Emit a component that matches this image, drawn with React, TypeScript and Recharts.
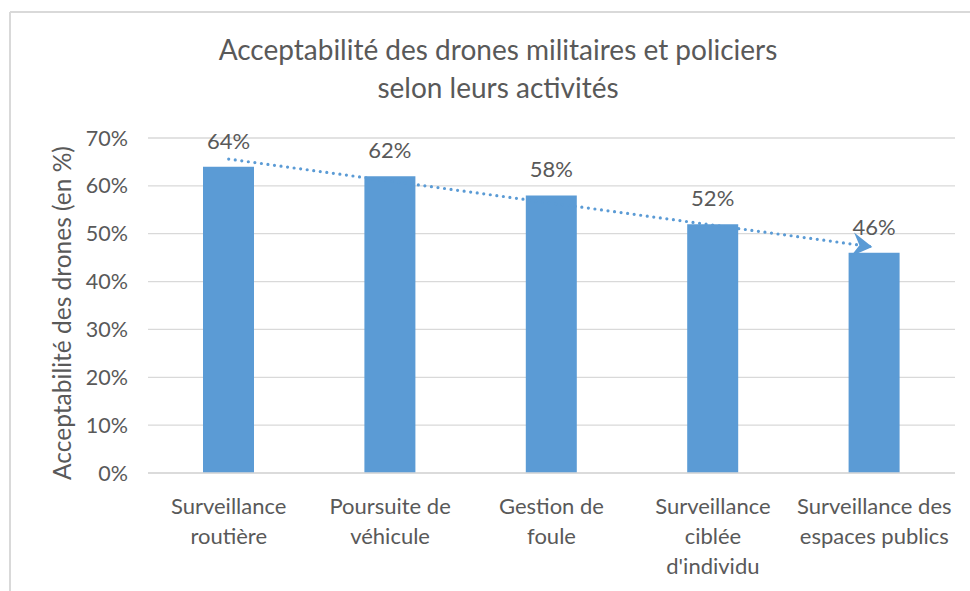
import React from "react";
import { ComposedChart, Bar, Line, XAxis, YAxis, CartesianGrid, LabelList } from "recharts";

const categories = [
  "Surveillance routière",
  "Poursuite de véhicule",
  "Gestion de foule",
  "Surveillance ciblée d'individu",
  "Surveillance des espaces publics",
];
const tickLines = [
  ["Surveillance", "routière"],
  ["Poursuite de", "véhicule"],
  ["Gestion de", "foule"],
  ["Surveillance", "ciblée", "d'individu"],
  ["Surveillance des", "espaces publics"],
];
const values = [64, 62, 58, 52, 46];
const trendValues: (number | null)[] = [65.6, null, null, null, 47.2];
const yTicks = [0, 10, 20, 30, 40, 50, 60, 70];

const data = categories.map((c, i) => ({ name: c, value: values[i], trend: trendValues[i], idx: i }));

const FONT = "Lato, 'Open Sans', sans-serif";
const TXT = "#595959";
const BLUE = "#5b9bd5";

const CatTick = (props: any) => {
  const { x, y, payload } = props;
  const lines = tickLines[payload.index] || [String(payload.value)];
  return (
    <text x={x} y={y} textAnchor="middle" fill={TXT} fontFamily={FONT} fontSize={22}>
      {lines.map((l, i) => (
        <tspan key={i} x={x} y={y + 33 + i * 30}>
          {l}
        </tspan>
      ))}
    </text>
  );
};

const ValueLabel = (props: any) => {
  const { x, y, width, value } = props;
  return (
    <text x={x + width / 2} y={y - 18} textAnchor="middle" fill={TXT} fontFamily={FONT} fontSize={22}>
      {value}%
    </text>
  );
};

const ArrowDot = (props: any) => {
  const { cx, cy, index, points } = props;
  if (index !== values.length - 1 || cx == null || cy == null) return <g key={`d${index}`} />;
  let angle = 0;
  if (points && points.length) {
    const first = points.find((p: any) => p && p.y != null && p.value != null);
    if (first) angle = (Math.atan2(cy - first.y, cx - first.x) * 180) / Math.PI;
  }
  return (
    <g key={`d${index}`} transform={`translate(${cx - 2},${cy}) rotate(${angle})`}>
      <path d="M0,0 L-20,-12 L-13,0 L-20,12 Z" fill={BLUE} />
    </g>
  );
};

export default function App() {
  return (
    <div style={{ position: "absolute", left: 0, top: 0, width: 970, height: 591, background: "#fff" }}>
      <ComposedChart
        width={970}
        height={591}
        data={data}
        margin={{ top: 138, right: 15, bottom: 18, left: 0 }}
      >
        <CartesianGrid vertical={false} stroke="#d9d9d9" strokeWidth={1.3} />
        <XAxis
          dataKey="name"
          axisLine={{ stroke: "#d9d9d9", strokeWidth: 1.5 }}
          tickLine={false}
          interval={0}
          height={100}
          tick={<CatTick />}
        />
        <YAxis
          width={148}
          domain={[0, 70]}
          ticks={yTicks}
          axisLine={false}
          tickLine={false}
          tickMargin={14}
          tickFormatter={(v: number) => `${v}%`}
          tick={{ fill: TXT, fontFamily: FONT, fontSize: 21.5 }}
        />
        <Bar dataKey="value" fill={BLUE} barSize={51} isAnimationActive={false}>
          <LabelList dataKey="value" content={<ValueLabel />} />
        </Bar>
        <Line
          dataKey="trend"
          stroke={BLUE}
          strokeWidth={3.2}
          strokeDasharray="0 6.6"
          strokeLinecap="round"
          connectNulls
          isAnimationActive={false}
          dot={(p: any) => <ArrowDot {...p} />}
          activeDot={false}
        />
      </ComposedChart>
      <svg
        width={970}
        height={591}
        style={{ position: "absolute", left: 0, top: 0, pointerEvents: "none" }}
      >
        <line x1={10} y1={12} x2={970} y2={12} stroke="#d9d9d9" strokeWidth={2} />
        <line x1={10} y1={12} x2={10} y2={591} stroke="#d9d9d9" strokeWidth={2} />
        <text x={498} y={60} textAnchor="middle" fill={TXT} fontFamily={FONT} fontSize={28}>
          Acceptabilité des drones militaires et policiers
        </text>
        <text x={498} y={98} textAnchor="middle" fill={TXT} fontFamily={FONT} fontSize={28}>
          selon leurs activités
        </text>
        <text
          x={0}
          y={0}
          transform="translate(71,313) rotate(-90)"
          textAnchor="middle"
          fill={TXT}
          fontFamily={FONT}
          fontSize={24.5}
        >
          Acceptabilité des drones (en %)
        </text>
      </svg>
    </div>
  );
}
